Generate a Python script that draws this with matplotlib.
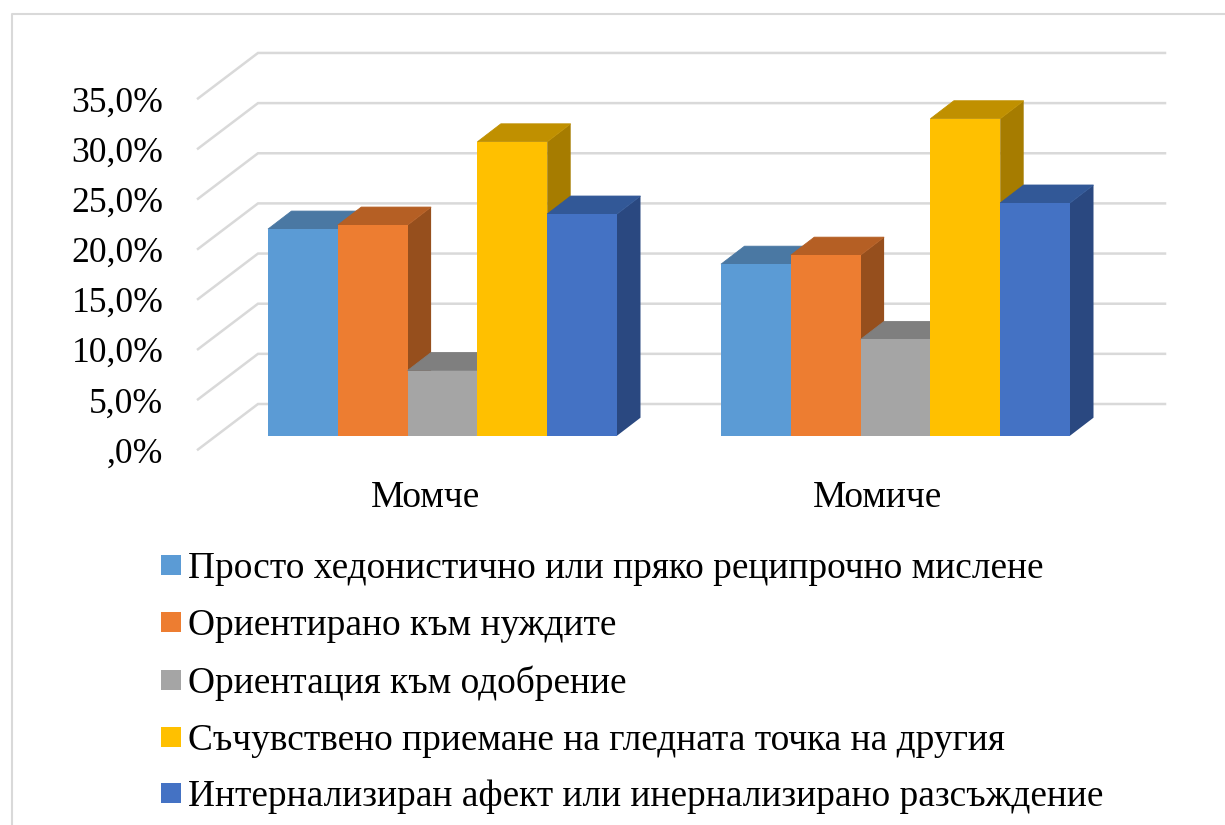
import matplotlib
matplotlib.use("Agg")
import matplotlib.pyplot as plt
from matplotlib.lines import Line2D

plt.rcParams['font.family'] = ['Liberation Serif', 'DejaVu Serif']

categories = ["Момче", "Момиче"]
series_names = [
    "Просто хедонистично или пряко реципрочно мислене",
    "Ориентирано към нуждите",
    "Ориентация към одобрение",
    "Съчувствено приемане на гледната точка на другия",
    "Интернализиран афект или инернализирано разсъждение",
]
boys = [20.6, 21.0, 6.5, 29.3, 22.1]
girls = [17.1, 18.0, 9.6, 31.6, 23.2]
y_ticks = [0, 5, 10, 15, 20, 25, 30, 35]
y_labels = [",0%", "5,0%", "10,0%", "15,0%", "20,0%", "25,0%", "30,0%", "35,0%"]

front_colors = ["#5b9bd5", "#ed7d31", "#a5a5a5", "#ffc000", "#4472c4"]
top_colors = ["#4a78a3", "#b55f24", "#7f7f7f", "#c09000", "#325897"]
side_colors = ["#3f6a94", "#964f1d", "#6e6e6e", "#a67c00", "#2a4880"]
GRID = "#d9d9d9"

W, H = 1225, 825
PX_PER_UNIT_X = 453.0
PX_PER_PCT = 10.03
BASE_PX = 435.7     # pixel row of 0% at the bar fronts
CENTER_PX = 442.5   # pixel column of first group centre

AX_L, AX_R, AX_T, AX_B = 198, 1165, 40, 460

fig = plt.figure(figsize=(W / 100, H / 100), dpi=100, facecolor="white")
ax = fig.add_axes([AX_L / W, 1 - AX_B / H, (AX_R - AX_L) / W, (AX_B - AX_T) / H])
ax.set_xlim((AX_L - CENTER_PX) / PX_PER_UNIT_X, (AX_R - CENTER_PX) / PX_PER_UNIT_X)
ax.set_ylim((BASE_PX - AX_B) / PX_PER_PCT, (BASE_PX - AX_T) / PX_PER_PCT)
for s in ax.spines.values():
    s.set_visible(False)

x0 = ax.get_xlim()[0]
x1 = ax.get_xlim()[1]
wall_dx = 60 / PX_PER_UNIT_X
wall_back = (BASE_PX - 404) / PX_PER_PCT
wall_front = (BASE_PX - 449.5) / PX_PER_PCT
for t in y_ticks:
    ax.plot([x0, x0 + wall_dx, x1], [t + wall_front, t + wall_back, t + wall_back],
            color=GRID, lw=1.8, solid_joinstyle="miter", clip_on=False, zorder=1)

bar_w = 69.8 / PX_PER_UNIT_X
depth_x = 23.5 / PX_PER_UNIT_X
depth_y = 18 / PX_PER_PCT

z = 2
for g, vals in enumerate([boys, girls]):
    for i, v in enumerate(vals):
        left = g + (i - 2.5) * bar_w
        right = left + bar_w
        ax.fill([right, right + depth_x, right + depth_x, right],
                [0, depth_y, v + depth_y, v], color=side_colors[i], lw=0, zorder=z)
        # thin edge on the top face closes the seam against the bar to the left
        ax.fill([left, right, right + depth_x, left + depth_x],
                [v, v, v + depth_y, v + depth_y], color=top_colors[i], lw=0.6, zorder=z)
        ax.bar(left, v, width=bar_w, align="edge", color=front_colors[i], lw=0, zorder=z)
        z += 1

ax.set_yticks([t + (BASE_PX - 450) / PX_PER_PCT for t in y_ticks])
ax.set_yticklabels(y_labels, fontsize=25.7, color="black")
ax.tick_params(axis="y", length=0, pad=25)
ax.set_xticks([g - 17.5 / PX_PER_UNIT_X for g in range(len(categories))])
ax.set_xticklabels(categories, fontsize=26.9, color="black")
ax.tick_params(axis="x", length=0, pad=14.5)

# chart frame, only top and left show in the crop
fig.add_artist(Line2D([11.5 / W, 11.5 / W, 1], [0, 1 - 13.5 / H, 1 - 13.5 / H],
                      color=GRID, lw=1.5))

handles = [Line2D([], [], ls="none", marker="s", ms=13.7, mew=0, color=c) for c in front_colors]
fig.legend(handles, series_names, loc="upper left", bbox_to_anchor=(157.5 / W, 1 - 552 / H),
           frameon=False, fontsize=26.9, borderpad=0, borderaxespad=0,
           labelspacing=0.595, handlelength=0.7, handletextpad=0.12)

fig.savefig("out.png", dpi=100, facecolor="white")
